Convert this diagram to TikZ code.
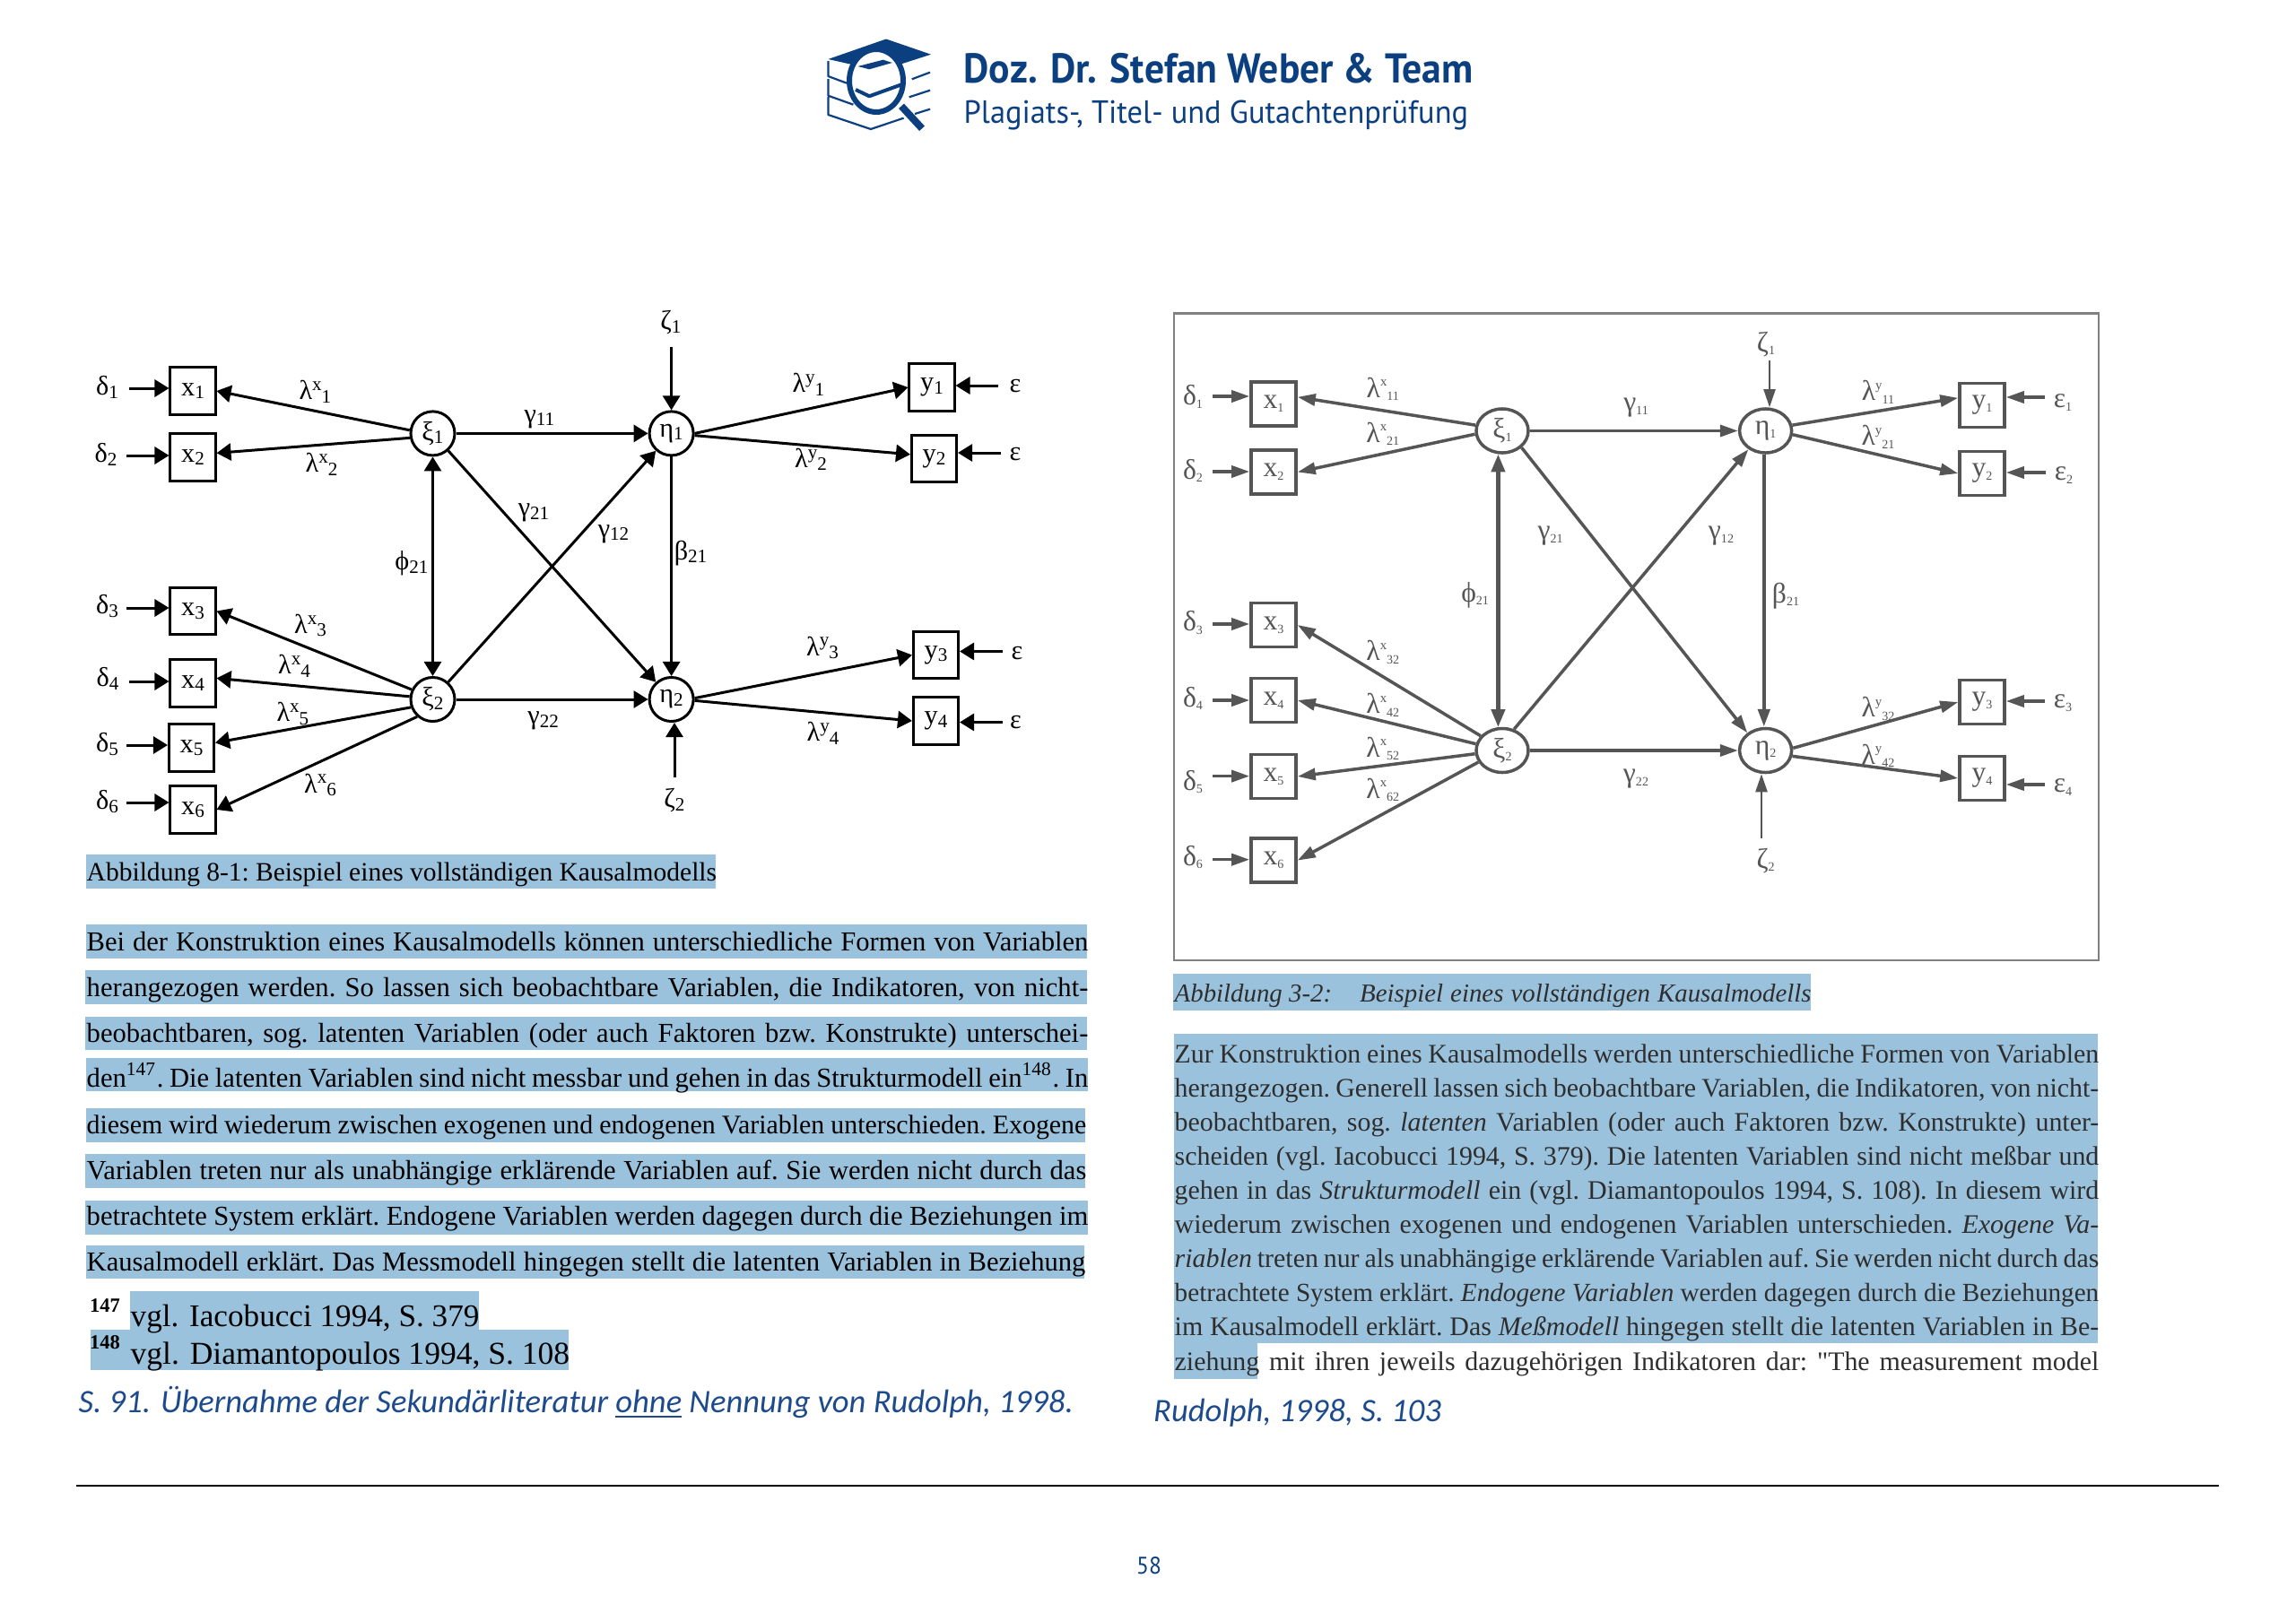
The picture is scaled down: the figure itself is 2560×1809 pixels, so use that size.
\documentclass[tikz,border=0pt]{standalone}
\usepackage{fontspec}
\setmainfont{Liberation Serif}
\newfontfamily\plainquote{Liberation Serif}
\newfontfamily\headbold[FakeStretch=0.94]{PT Sans}
\newfontfamily\headfont[FakeStretch=0.96]{PT Sans}
\newfontfamily\blueitfont{Carlito}
\usetikzlibrary{arrows.meta,shapes.geometric}
\definecolor{hlblue}{HTML}{9BC2DC}
\definecolor{logoblue}{HTML}{0B3F80}
\definecolor{capblue}{HTML}{1C4A8C}
\definecolor{scangray}{HTML}{555555}
\def\hlbar(#1)(#2){\fill[hlblue] (#1) rectangle (#2);}
\newcommand{\lsub}[1]{\raisebox{-0.25ex}{\fontsize{6}{6}\selectfont #1}}
\newcommand{\lsup}[1]{\raisebox{0.75ex}{\fontsize{6}{6}\selectfont #1}}
\newcommand{\rsub}[1]{\raisebox{-0.25ex}{\fontsize{4}{4}\selectfont #1}}
\newcommand{\rsup}[1]{\raisebox{0.85ex}{\fontsize{4.2}{4}\selectfont #1}}
\newcommand{\fitline}[2]{\makebox[#1cm][s]{\frenchspacing #2}}
\tikzset{
	lbox/.style={draw=black, line width=0.3mm, inner sep=0pt, minimum width=0.5cm, minimum height=0.52cm, font=\fontsize{8.6}{9}\selectfont},
	lcirc/.style={draw=black, line width=0.3mm, circle, inner sep=0pt, minimum size=0.49cm, font=\fontsize{8.6}{9}\selectfont},
	llab/.style={inner sep=0pt, font=\fontsize{8.6}{9}\selectfont},
	larrow/.style={line width=0.3mm, -{Triangle[length=1.6mm,width=1.9mm]}},
	larrows/.style={line width=0.3mm, {Triangle[length=1.6mm,width=1.9mm]}-{Triangle[length=1.6mm,width=1.9mm]}},
	rbox/.style={draw=scangray, line width=0.35mm, inner sep=0pt, minimum width=0.5cm, minimum height=0.49cm, text=scangray, font=\fontsize{9}{9}\selectfont},
	rell/.style={draw=scangray, line width=0.35mm, ellipse, inner sep=0pt, minimum width=0.58cm, minimum height=0.49cm, text=scangray, font=\fontsize{9}{9}\selectfont},
	rlab/.style={inner sep=0pt, text=scangray, font=\fontsize{9}{9}\selectfont},
	rarrow/.style={draw=scangray, line width=0.35mm, -{Triangle[length=2mm,width=1.3mm]}},
	rarrows/.style={draw=scangray, line width=0.45mm, {Triangle[length=2mm,width=1.5mm]}-{Triangle[length=2mm,width=1.5mm]}},
	ltext/.style={inner sep=0pt, anchor=base west, font=\fontsize{8.7}{10}\selectfont},
	rtext/.style={inner sep=0pt, anchor=base west, text=black!82, font=\fontsize{8.5}{10}\selectfont},
	bluetext/.style={inner sep=0pt, anchor=base west, text=capblue, font=\blueitfont\itshape\fontsize{10.4}{12}\selectfont},
	logoline/.style={draw=logoblue, line width=0.22mm, line join=round}
}
\begin{document}
\begin{tikzpicture}[x=0.01cm, y=-0.01cm]
	%%%%% START %%%%%
	\useasboundingbox (0, 0) rectangle (2560, 1809);

	%%%%% HEADER %%%%%
	\fill[logoblue] (923.4, 66) -- (988, 43.5) -- (1038, 60.7) -- (1003, 72) -- (950, 72) -- cycle;
	\draw[logoline] (923.4, 68) -- (923.4, 85) -- (944, 92.7);
	\draw[logoline] (923.4, 88) -- (923.4, 106.7) -- (951.4, 116.7);
	\draw[logoline] (923.4, 108) -- (923.4, 128) -- (970.8, 144) -- (1007.6, 131.7);
	\draw[logoline] (1016.7, 88.3) -- (1037, 80.7);
	\draw[logoline] (1013.7, 108.3) -- (1037, 100.7);
	\draw[logoline] (1020, 127) -- (1037, 121.7);
	\draw[fill=white, draw=logoblue, line width=0.6mm] (977, 90) circle [x radius=30, y radius=35];
	\fill[logoblue] (956.5, 74) -- (984.6, 66.7) -- (994.8, 70) -- (969.3, 77.3) -- cycle;
	\draw[logoline, line width=0.4mm] (954, 100) -- (969.3, 107.3) -- (1006, 94);
	\draw[logoblue, line width=0.8mm] (1005, 118.3) -- (1028, 143.3);
	\node[inner sep=0pt, anchor=base west, text=logoblue, font=\headbold\bfseries\fontsize{13.2}{14}\selectfont] (headone) at (1074, 92.5) {Doz. Dr. Stefan Weber \& Team};
	\node[inner sep=0pt, anchor=base west, text=logoblue, font=\headfont\fontsize{10.2}{12}\selectfont] (headtwo) at (1074, 137) {Plagiats-, Titel- und Gutachtenprüfung};

	%%%%% LEFT DIAGRAM %%%%%
	\node[lbox] (xa) at (215, 436) {x\lsub{1}};
	\node[lbox] (xb) at (215, 510) {x\lsub{2}};
	\node[lbox] (xc) at (215, 681.5) {x\lsub{3}};
	\node[lbox] (xd) at (215, 762) {x\lsub{4}};
	\node[lbox] (xe) at (213.5, 834) {x\lsub{5}};
	\node[lbox] (xf) at (215, 903) {x\lsub{6}};
	\node[lbox] (ya) at (1039, 432) {y\lsub{1}};
	\node[lbox] (yb) at (1041.5, 511.5) {y\lsub{2}};
	\node[lbox] (yc) at (1043.5, 730.5) {y\lsub{3}};
	\node[lbox] (yd) at (1043.5, 804) {y\lsub{4}};
	\node[lcirc] (xia) at (482.5, 483.4) {ξ\lsub{1}};
	\node[lcirc] (xib) at (482.5, 780) {ξ\lsub{2}};
	\node[lcirc] (etaa) at (748.6, 483.4) {η\lsub{1}};
	\node[lcirc] (etab) at (748.6, 780) {η\lsub{2}};

	\node[llab] (da) at (119.5, 432) {δ\lsub{1}};
	\node[llab] (db) at (118, 507) {δ\lsub{2}};
	\node[llab] (dc) at (119.5, 676) {δ\lsub{3}};
	\node[llab] (dd) at (120, 757) {δ\lsub{4}};
	\node[llab] (de) at (119.5, 830) {δ\lsub{5}};
	\node[llab] (df) at (119.5, 894) {δ\lsub{6}};
	\node[llab] (ea) at (1132, 431) {ε};
	\node[llab] (eb) at (1132, 507) {ε};
	\node[llab] (ec) at (1134, 729) {ε};
	\node[llab] (ed) at (1132.5, 806) {ε};
	\node[llab] (za) at (748, 360) {ζ\lsub{1}};
	\node[llab] (zb) at (752, 893) {ζ\lsub{2}};

	\coordinate (das) at (143.6, 433);
	\coordinate (dbs) at (140.7, 508);
	\coordinate (dcs) at (141.4, 678);
	\coordinate (dds) at (143.6, 760);
	\coordinate (des) at (141, 831);
	\coordinate (dfs) at (141, 895);
	\coordinate (eas) at (1113, 430);
	\coordinate (ebs) at (1116, 505);
	\coordinate (ecs) at (1118, 726.5);
	\coordinate (eds) at (1118, 805.5);
	\coordinate (zas) at (748.6, 386.5);
	\coordinate (zbs) at (752, 867);

	\draw[larrow] (das) -- (das -| xa.west);
	\draw[larrow] (dbs) -- (dbs -| xb.west);
	\draw[larrow] (dcs) -- (dcs -| xc.west);
	\draw[larrow] (dds) -- (dds -| xd.west);
	\draw[larrow] (des) -- (des -| xe.west);
	\draw[larrow] (dfs) -- (dfs -| xf.west);
	\draw[larrow] (eas) -- (eas -| ya.east);
	\draw[larrow] (ebs) -- (ebs -| yb.east);
	\draw[larrow] (ecs) -- (ecs -| yc.east);
	\draw[larrow] (eds) -- (eds -| yd.east);
	\draw[larrow] (zas) -- (etaa.north);
	\draw[larrow] (zbs) -- (zbs |- etab.south);

	\draw[larrow] (xia.172) -- (xa.east);
	\draw[larrow] (xia.191) -- (xb.10);
	\draw[larrow] (xib.155) -- (xc.east);
	\draw[larrow] (xib.173) -- (xd.12);
	\draw[larrow] (xib.200) -- (xe.12);
	\draw[larrow] (xib.228) -- (xf.east);
	\draw[larrow] (xia) -- (etaa);
	\draw[larrow] (xib) -- (etab);
	\draw[larrow] (xia) -- (etab);
	\draw[larrow] (xib) -- (etaa);
	\draw[larrows] (xia) -- (xib);
	\draw[larrow] (etaa) -- (etab);
	\draw[larrow] (etaa.east) -- (ya.west);
	\draw[larrow] (etaa.-5) -- (yb.170);
	\draw[larrow] (etab.3) -- (yc.west);
	\draw[larrow] (etab.-3) -- (yd.west);

	\node[llab] (lxa) at (351.4, 437) {λ\lsup{x}\lsub{1}};
	\node[llab] (lxb) at (358.6, 518) {λ\lsup{x}\lsub{2}};
	\node[llab] (lxc) at (346, 697.6) {λ\lsup{x}\lsub{3}};
	\node[llab] (lxd) at (328, 743) {λ\lsup{x}\lsub{4}};
	\node[llab] (lxe) at (326.4, 796) {λ\lsup{x}\lsub{5}};
	\node[llab] (lxf) at (357, 875.5) {λ\lsup{x}\lsub{6}};
	\node[llab] (lya) at (901.4, 429) {λ\lsup{y}\lsub{1}};
	\node[llab] (lyb) at (904, 512.6) {λ\lsup{y}\lsub{2}};
	\node[llab] (lyc) at (917, 722.5) {λ\lsup{y}\lsub{3}};
	\node[llab] (lyd) at (917.5, 818) {λ\lsup{y}\lsub{4}};
	\node[llab] (gaa) at (601.4, 467.5) {γ\lsub{11}};
	\node[llab] (gba) at (595, 572) {γ\lsub{21}};
	\node[llab] (gab) at (684, 595.6) {γ\lsub{12}};
	\node[llab] (gbb) at (605.7, 804) {γ\lsub{22}};
	\node[llab] (phi) at (459, 628.4) {ϕ\lsub{21}};
	\node[llab] (beta) at (770, 616.6) {β\lsub{21}};

	%%%%% LEFT TEXT %%%%%
	\hlbar(96, 953)(798, 991)
	\hlbar(96, 1031)(1212, 1068.6)
	\hlbar(95, 1082)(1212, 1119.6)
	\hlbar(95, 1133.5)(1212, 1171)
	\hlbar(96, 1180)(1213, 1216.7)
	\hlbar(96, 1236)(1210, 1274)
	\hlbar(95, 1287)(1210, 1325)
	\hlbar(95, 1339)(1213, 1377)
	\hlbar(96, 1388.6)(1209, 1425.7)
	\hlbar(145, 1440)(534, 1483)
	\hlbar(101, 1483)(634, 1528)

	\node[ltext, font=\fontsize{8.4}{10}\selectfont] (lcap) at (96, 982) {\fitline{7.02}{Abbildung 8-1: Beispiel eines vollständigen Kausalmodells}};
	\node[ltext] (lla) at (96, 1060) {\fitline{11.16}{Bei der Konstruktion eines Kausalmodells können unterschiedliche Formen von Variablen}};
	\node[ltext] (llb) at (96, 1111) {\fitline{11.16}{herangezogen werden. So lassen sich beobachtbare Variablen, die Indikatoren, von nicht-}};
	\node[ltext] (llc) at (96, 1162.4) {\fitline{11.16}{beobachtbaren, sog. latenten Variablen (oder auch Faktoren bzw. Konstrukte) unterschei-}};
	\node[ltext] (lld) at (96, 1212.7) {\fitline{11.16}{den\textsuperscript{147}. Die latenten Variablen sind nicht messbar und gehen in das Strukturmodell ein\textsuperscript{148}. In}};
	\node[ltext, font=\fontsize{8.5}{10}\selectfont] (lle) at (96, 1264.5) {\fitline{11.14}{diesem wird wiederum zwischen exogenen und endogenen Variablen unterschieden. Exogene}};
	\node[ltext] (llf) at (96, 1315.5) {\fitline{11.14}{Variablen treten nur als unabhängige erklärende Variablen auf. Sie werden nicht durch das}};
	\node[ltext] (llg) at (96, 1366.5) {\fitline{11.16}{betrachtete System erklärt. Endogene Variablen werden dagegen durch die Beziehungen im}};
	\node[ltext] (llh) at (96, 1417.6) {\fitline{11.13}{Kausalmodell erklärt. Das Messmodell hingegen stellt die latenten Variablen in Beziehung}};
	\node[inner sep=0pt, font=\bfseries\fontsize{6.4}{8}\selectfont] (fna) at (117, 1456) {147};
	\node[inner sep=0pt, font=\bfseries\fontsize{6.4}{8}\selectfont] (fnb) at (117, 1497) {148};
	\node[ltext, font=\fontsize{10}{11}\selectfont] (fta) at (145, 1479) {vgl. Iacobucci 1994, S. 379};
	\node[ltext, font=\fontsize{10.1}{11}\selectfont] (ftb) at (145, 1521.6) {vgl. Diamantopoulos 1994, S. 108};
	\node[bluetext] (lsrc) at (87, 1575) {S. 91. Übernahme der Sekundärliteratur \underline{ohne} Nennung von Rudolph, 1998.};

	%%%%% RIGHT DIAGRAM %%%%%
	\draw[draw=black!50, line width=0.25mm] (1309, 349.4) rectangle (2340, 1071);

	\node[rbox] (rxa) at (1420, 450.5) {x\rsub{1}};
	\node[rbox] (rxb) at (1420, 526.5) {x\rsub{2}};
	\node[rbox] (rxc) at (1420, 697) {x\rsub{3}};
	\node[rbox] (rxd) at (1420, 781) {x\rsub{4}};
	\node[rbox] (rxe) at (1420, 866) {x\rsub{5}};
	\node[rbox] (rxf) at (1420, 959.6) {x\rsub{6}};
	\node[rbox] (rya) at (2210, 452) {y\rsub{1}};
	\node[rbox] (ryb) at (2210, 528) {y\rsub{2}};
	\node[rbox] (ryc) at (2210, 783) {y\rsub{3}};
	\node[rbox] (ryd) at (2210, 868) {y\rsub{4}};
	\node[rell] (rxia) at (1675, 480.5) {ξ\rsub{1}};
	\node[rell] (rxib) at (1675, 837) {ξ\rsub{2}};
	\node[rell] (retaa) at (1968.6, 480.5) {η\rsub{1}};
	\node[rell] (retab) at (1968.6, 837) {η\rsub{2}};

	\node[rlab] (rda) at (1330, 442.5) {δ\rsub{1}};
	\node[rlab] (rdb) at (1330, 525) {δ\rsub{2}};
	\node[rlab] (rdc) at (1330, 694.5) {δ\rsub{3}};
	\node[rlab] (rdd) at (1330, 779) {δ\rsub{4}};
	\node[rlab] (rde) at (1330, 872) {δ\rsub{5}};
	\node[rlab] (rdf) at (1330, 956) {δ\rsub{6}};
	\node[rlab] (rea) at (2300, 449) {ε\rsub{1}};
	\node[rlab] (reb) at (2301, 530) {ε\rsub{2}};
	\node[rlab] (rec) at (2300, 784) {ε\rsub{3}};
	\node[rlab] (red) at (2300, 878) {ε\rsub{4}};
	\node[rlab] (rza) at (1969, 384) {ζ\rsub{1}};
	\node[rlab] (rzb) at (1968.6, 960) {ζ\rsub{2}};

	\coordinate (rdas) at (1352, 442);
	\coordinate (rdbs) at (1352, 526);
	\coordinate (rdcs) at (1352, 696);
	\coordinate (rdds) at (1352, 781);
	\coordinate (rdes) at (1352, 865.6);
	\coordinate (rdfs) at (1352, 958.7);
	\coordinate (reas) at (2280, 443);
	\coordinate (rebs) at (2281, 527);
	\coordinate (recs) at (2280, 782);
	\coordinate (reds) at (2280, 875);
	\coordinate (rzas) at (1973, 401.7);
	\coordinate (rzbs) at (1964, 935);

	\draw[rarrow] (rdas) -- (rdas -| rxa.west);
	\draw[rarrow] (rdbs) -- (rdbs -| rxb.west);
	\draw[rarrow] (rdcs) -- (rdcs -| rxc.west);
	\draw[rarrow] (rdds) -- (rdds -| rxd.west);
	\draw[rarrow] (rdes) -- (rdes -| rxe.west);
	\draw[rarrow] (rdfs) -- (rdfs -| rxf.west);
	\draw[rarrow] (reas) -- (reas -| rya.east);
	\draw[rarrow] (rebs) -- (rebs -| ryb.east);
	\draw[rarrow] (recs) -- (recs -| ryc.east);
	\draw[rarrow] (reds) -- (reds -| ryd.east);
	\draw[rarrow, line width=0.2mm] (rzas) -- (rzas |- retaa.north);
	\draw[rarrow, line width=0.25mm] (rzbs) -- (rzbs |- retab.south);

	\draw[rarrow] (rxia.168) -- (rxa.16);
	\draw[rarrow] (rxia.187) -- (rxb.east);
	\draw[rarrow] (rxib.146) -- (rxc.east);
	\draw[rarrow] (rxib.166) -- (rxd.east);
	\draw[rarrow] (rxib.187) -- (rxe.east);
	\draw[rarrow] (rxib.206) -- (rxf.east);
	\draw[rarrow] (rxia) -- (retaa);
	\draw[rarrow] (rxib) -- (retab);
	\draw[rarrow] (rxia.-41) -- (retab.136);
	\draw[rarrow] (rxib.61) -- (retaa.227);
	\draw[rarrows] (rxia.260) -- (rxib.100);
	\draw[rarrow, line width=0.45mm] (retaa.266) -- (retab.94);
	\draw[rarrow] (retaa.12) -- (rya.163);
	\draw[rarrow] (retaa.-8) -- (ryb.west);
	\draw[rarrow] (retab.5) -- (ryc.west);
	\draw[rarrow] (retab.-12) -- (ryd.west);

	\node[rlab] (rlxa) at (1541.8, 434) {λ\rsup{x}\rsub{11}};
	\node[rlab] (rlxb) at (1541.8, 484) {λ\rsup{x}\rsub{21}};
	\node[rlab] (rlxc) at (1541.8, 727.5) {λ\rsup{x}\rsub{32}};
	\node[rlab] (rlxd) at (1541.8, 786.6) {λ\rsup{x}\rsub{42}};
	\node[rlab] (rlxe) at (1541.8, 835) {λ\rsup{x}\rsub{52}};
	\node[rlab] (rlxf) at (1541.8, 881) {λ\rsup{x}\rsub{62}};
	\node[rlab] (rlya) at (2094, 437.6) {λ\rsup{y}\rsub{11}};
	\node[rlab] (rlyb) at (2094, 487.5) {λ\rsup{y}\rsub{21}};
	\node[rlab] (rlyc) at (2094, 790.5) {λ\rsup{y}\rsub{32}};
	\node[rlab] (rlyd) at (2094, 843) {λ\rsup{y}\rsub{42}};
	\node[rlab] (rgaa) at (1824, 454.6) {γ\rsub{11}};
	\node[rlab] (rgba) at (1728.6, 597.6) {γ\rsub{21}};
	\node[rlab] (rgab) at (1919, 597.6) {γ\rsub{12}};
	\node[rlab] (rgbb) at (1824, 869) {γ\rsub{22}};
	\node[rlab] (rphi) at (1644.6, 663.5) {ϕ\rsub{21}};
	\node[rlab] (rbeta) at (1991, 664.5) {β\rsub{21}};

	%%%%% RIGHT TEXT %%%%%
	\hlbar(1307.5, 1086)(2019, 1126.5)
	\hlbar(1309, 1153.4)(2339, 1498)
	\hlbar(1309, 1498)(1402, 1538)

	\node[rtext, font=\itshape\fontsize{8.2}{10}\selectfont] (rcap) at (1309, 1117) {Abbildung 3-2:};
	\node[rtext, font=\itshape\fontsize{8.2}{10}\selectfont] (rcapb) at (1515.5, 1117) {\fitline{5.03}{Beispiel eines vollständigen Kausalmodells}};
	\node[rtext] (rla) at (1309, 1185) {\fitline{10.3}{Zur Konstruktion eines Kausalmodells werden unterschiedliche Formen von Variablen}};
	\node[rtext] (rlb) at (1309, 1223) {\fitline{10.3}{herangezogen. Generell lassen sich beobachtbare Variablen, die Indikatoren, von nicht-}};
	\node[rtext] (rlc) at (1309, 1261) {\fitline{10.3}{beobachtbaren, sog. \textit{latenten} Variablen (oder auch Faktoren bzw. Konstrukte) unter-}};
	\node[rtext] (rld) at (1309, 1299) {\fitline{10.3}{scheiden (vgl. Iacobucci 1994, S. 379). Die latenten Variablen sind nicht meßbar und}};
	\node[rtext] (rle) at (1309, 1337) {\fitline{10.3}{gehen in das \textit{Strukturmodell} ein (vgl. Diamantopoulos 1994, S. 108). In diesem wird}};
	\node[rtext] (rlf) at (1309, 1375) {\fitline{10.3}{wiederum zwischen exogenen und endogenen Variablen unterschieden. \textit{Exogene Va-}}};
	\node[rtext] (rlg) at (1309, 1413) {\fitline{10.3}{\textit{riablen} treten nur als unabhängige erklärende Variablen auf. Sie werden nicht durch das}};
	\node[rtext, font=\fontsize{8.3}{10}\selectfont] (rlh) at (1309, 1451) {\fitline{10.3}{betrachtete System erklärt. \textit{Endogene Variablen} werden dagegen durch die Beziehungen}};
	\node[rtext] (rli) at (1309, 1489) {\fitline{10.3}{im Kausalmodell erklärt. Das \textit{Meßmodell} hingegen stellt die latenten Variablen in Be-}};
	\node[rtext] (rlj) at (1309, 1528) {\fitline{10.3}{ziehung mit ihren jeweils dazugehörigen Indikatoren dar: {\plainquote"}The measurement model}};
	\node[bluetext] (rsrc) at (1285.5, 1585) {Rudolph, 1998, S. 103};

	%%%%% FOOTER %%%%%
	\draw[line width=0.2mm] (85, 1657) -- (2474, 1657);
	\node[inner sep=0pt, text=logoblue, font=\headfont\fontsize{7.6}{9}\selectfont] (pageno) at (1281, 1746) {58};
	%%%%% END %%%%%
\end{tikzpicture}
\end{document}
